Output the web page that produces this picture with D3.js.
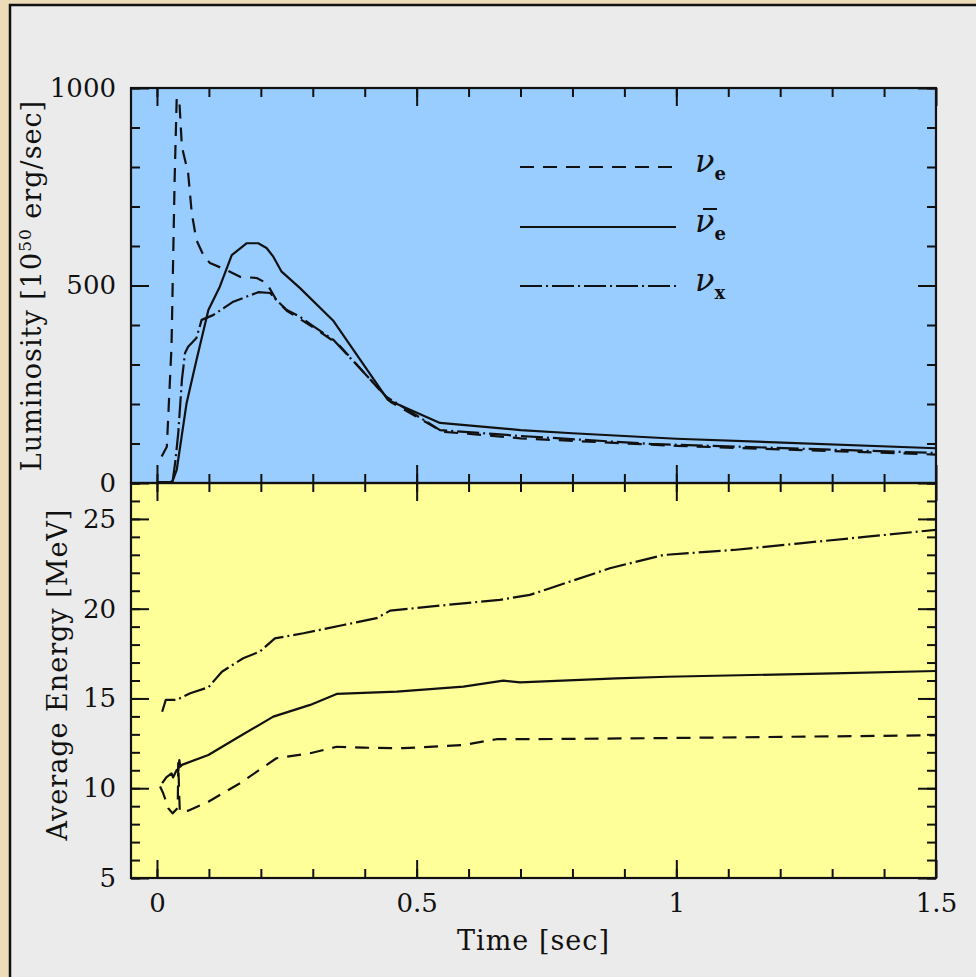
<!DOCTYPE html>
<html>
<head>
<meta charset="utf-8">
<script src="https://cdn.jsdelivr.net/npm/d3@7"></script>
<style>
  body { margin: 0; background: #eddcb8; }
  svg text { font-family: "DejaVu Serif", serif; fill: #111; }
</style>
</head>
<body>
<div id="chart"></div>
<script>
// luminosity (10^50 erg/s) vs time (s)
const lumNueT = [0.009, 0.019, 0.028, 0.034, 0.038, 0.043, 0.048, 0.060, 0.067, 0.076, 0.090, 0.102, 0.134, 0.160, 0.192, 0.211, 0.230, 0.250, 0.300, 0.350, 0.450, 0.550, 0.700, 1.000, 1.500];
const lumNueV = [67, 92, 345, 767, 975, 970, 851, 785, 683, 615, 575, 557, 539, 522, 519, 506, 463, 436, 395, 350, 205, 130, 113, 94, 72];

const lumNuebT = [0.000, 0.025, 0.030, 0.038, 0.057, 0.076, 0.099, 0.121, 0.144, 0.173, 0.195, 0.211, 0.224, 0.240, 0.275, 0.340, 0.445, 0.545, 0.700, 0.800, 1.000, 1.500];
const lumNuebV = [2, 2, 5, 33, 202, 311, 438, 497, 577, 607, 607, 595, 573, 535, 494, 410, 210, 152, 134, 126, 112, 88];

const lumNuxT = [0.030, 0.035, 0.041, 0.048, 0.054, 0.060, 0.076, 0.086, 0.108, 0.147, 0.173, 0.195, 0.218, 0.230, 0.250, 0.275, 0.300, 0.340, 0.442, 0.545, 0.700, 0.950, 1.500];
const lumNuxV = [3, 51, 126, 261, 329, 345, 367, 413, 425, 459, 472, 483, 481, 463, 438, 421, 398, 362, 218, 134, 119, 99, 76];

// average energy (MeV) vs time (s)
const eNueT = [0.006, 0.012, 0.022, 0.030, 0.040, 0.041, 0.043, 0.044, 0.060, 0.099, 0.160, 0.230, 0.295, 0.346, 0.397, 0.474, 0.590, 0.654, 0.718, 1.000, 1.500];
const eNueV = [10.1, 9.72, 8.88, 8.6, 8.9, 11.4, 9.5, 8.7, 8.75, 9.25, 10.28, 11.67, 11.95, 12.31, 12.26, 12.23, 12.41, 12.73, 12.73, 12.8, 12.95];

const eNuebT = [0.010, 0.018, 0.028, 0.031, 0.038, 0.041, 0.043, 0.045, 0.048, 0.099, 0.153, 0.224, 0.295, 0.346, 0.462, 0.590, 0.667, 0.699, 0.885, 0.982, 1.302, 1.500];
const eNuebV = [10.28, 10.61, 10.83, 10.6, 11.02, 11.0, 11.57, 11.2, 11.3, 11.85, 12.78, 13.99, 14.64, 15.25, 15.38, 15.66, 15.99, 15.9, 16.12, 16.21, 16.4, 16.53];

const eNuxT = [0.010, 0.017, 0.038, 0.064, 0.099, 0.125, 0.166, 0.198, 0.227, 0.282, 0.359, 0.423, 0.449, 0.590, 0.660, 0.718, 0.757, 0.872, 0.975, 1.110, 1.238, 1.367, 1.500];
const eNuxV = [14.26, 14.92, 14.92, 15.29, 15.62, 16.49, 17.24, 17.61, 18.35, 18.63, 19.09, 19.47, 19.89, 20.3, 20.49, 20.77, 21.14, 22.25, 22.99, 23.27, 23.64, 24.01, 24.39];

// tick values
const timeMajor = [0, 0.5, 1, 1.5];
const timeMinor = d3.range(0, 15).map(i => i / 10);
const lumMajor = [0, 500, 1000];
const lumMinor = d3.range(0, 1001, 100);
const eneMajor = [5, 10, 15, 20, 25];
const eneMinor = d3.range(5, 28, 1);

const W = 976, H = 977;
const pLeft = 131, pRight = 936, pTop = 88, pMid = 483, pBottom = 878;

const svg = d3.select('#chart')
  .append('svg')
  .attr('width', W)
  .attr('height', H);

// frame / page background
svg.append('rect').attr('x', 0).attr('y', 0).attr('width', W).attr('height', H).attr('fill', '#eddcb8');
svg.append('rect')
  .attr('x', 10).attr('y', 5)
  .attr('width', W + 20).attr('height', H + 20)
  .attr('fill', '#ebebeb')
  .attr('stroke', '#111')
  .attr('stroke-width', 2.5);

const x = d3.scaleLinear().domain([-0.05, 1.5]).range([pLeft, pRight]);
const yLum = d3.scaleLinear().domain([0, 1000]).range([pMid, pTop]);
const yEne = d3.scaleLinear().domain([5, 27]).range([pBottom, pMid]);

// panel backgrounds
svg.append('rect').attr('x', pLeft).attr('y', pTop).attr('width', pRight - pLeft).attr('height', pMid - pTop).attr('fill', '#99ccff');
svg.append('rect').attr('x', pLeft).attr('y', pMid).attr('width', pRight - pLeft).attr('height', pBottom - pMid).attr('fill', '#ffff99');

svg.append('clipPath').attr('id', 'clipTop')
  .append('rect').attr('x', pLeft).attr('y', pTop).attr('width', pRight - pLeft).attr('height', pMid - pTop);
svg.append('clipPath').attr('id', 'clipBot')
  .append('rect').attr('x', pLeft).attr('y', pMid).attr('width', pRight - pLeft).attr('height', pBottom - pMid);

const styles = {
  nue: '14,9',
  nueb: null,
  nux: '22,4,2,4'
};

function drawLine(ts, vs, yScale, dash, clip) {
  const pts = ts.map((t, i) => [t, vs[i]]);
  const line = d3.line().x(d => x(d[0])).y(d => yScale(d[1]));
  svg.append('path')
    .datum(pts)
    .attr('clip-path', `url(#${clip})`)
    .attr('fill', 'none')
    .attr('stroke', '#111')
    .attr('stroke-width', 2.2)
    .attr('stroke-linejoin', 'round')
    .attr('stroke-dasharray', dash)
    .attr('d', line);
}

drawLine(lumNueT, lumNueV, yLum, styles.nue, 'clipTop');
drawLine(lumNuebT, lumNuebV, yLum, styles.nueb, 'clipTop');
drawLine(lumNuxT, lumNuxV, yLum, styles.nux, 'clipTop');

drawLine(eNueT, eNueV, yEne, styles.nue, 'clipBot');
drawLine(eNuebT, eNuebV, yEne, styles.nueb, 'clipBot');
drawLine(eNuxT, eNuxV, yEne, styles.nux, 'clipBot');

// axes: ticks point inward on all four sides
function addAxis(axis, tx, ty, labels) {
  const g = svg.append('g')
    .attr('transform', `translate(${tx},${ty})`)
    .call(axis);
  g.select('.domain').remove();
  g.selectAll('.tick line').attr('stroke', '#111').attr('stroke-width', 2);
  if (!labels) g.selectAll('.tick text').remove();
  else g.selectAll('.tick text').attr('font-size', 26).attr('fill', '#111').attr('font-family', '"DejaVu Serif", serif');
  return g;
}

const MAJ = 18, MIN = 9;
const fmt = d3.format('');

// time axes (top of top panel, middle line both sides, bottom)
addAxis(d3.axisTop(x).tickValues(timeMajor).tickSize(-MAJ), 0, pTop, false);
addAxis(d3.axisTop(x).tickValues(timeMinor).tickSize(-MIN), 0, pTop, false);
addAxis(d3.axisBottom(x).tickValues(timeMajor).tickSize(-MAJ), 0, pMid, false);
addAxis(d3.axisBottom(x).tickValues(timeMinor).tickSize(-MIN), 0, pMid, false);
addAxis(d3.axisTop(x).tickValues(timeMajor).tickSize(-MAJ), 0, pMid, false);
addAxis(d3.axisTop(x).tickValues(timeMinor).tickSize(-MIN), 0, pMid, false);
addAxis(d3.axisBottom(x).tickValues(timeMajor).tickSize(-MAJ).tickPadding(16).tickFormat(fmt), 0, pBottom, true);
addAxis(d3.axisBottom(x).tickValues(timeMinor).tickSize(-MIN), 0, pBottom, false);

// luminosity axes
addAxis(d3.axisLeft(yLum).tickValues(lumMajor).tickSize(-MAJ).tickPadding(15).tickFormat(fmt), pLeft, 0, true);
addAxis(d3.axisLeft(yLum).tickValues(lumMinor).tickSize(-MIN), pLeft, 0, false);
addAxis(d3.axisRight(yLum).tickValues(lumMajor).tickSize(-MAJ), pRight, 0, false);
addAxis(d3.axisRight(yLum).tickValues(lumMinor).tickSize(-MIN), pRight, 0, false);

// energy axes
addAxis(d3.axisLeft(yEne).tickValues(eneMajor).tickSize(-MAJ).tickPadding(15).tickFormat(fmt), pLeft, 0, true);
addAxis(d3.axisLeft(yEne).tickValues(eneMinor).tickSize(-MIN), pLeft, 0, false);
addAxis(d3.axisRight(yEne).tickValues(eneMajor).tickSize(-MAJ), pRight, 0, false);
addAxis(d3.axisRight(yEne).tickValues(eneMinor).tickSize(-MIN), pRight, 0, false);

// panel frames
[[pTop, pMid], [pMid, pBottom]].forEach(([y0, y1]) => {
  svg.append('rect')
    .attr('x', pLeft).attr('y', y0)
    .attr('width', pRight - pLeft).attr('height', y1 - y0)
    .attr('fill', 'none')
    .attr('stroke', '#111')
    .attr('stroke-width', 2.2);
});

// axis titles
svg.append('text')
  .attr('x', (pLeft + pRight) / 2)
  .attr('y', 950)
  .attr('text-anchor', 'middle')
  .attr('font-size', 27)
  .attr('letter-spacing', 1)
  .text('Time [sec]');

const lumTitle = svg.append('text')
  .attr('transform', `translate(41,${(pTop + pMid) / 2}) rotate(-90)`)
  .attr('text-anchor', 'middle')
  .attr('font-size', 27)
  .attr('letter-spacing', 1);
lumTitle.append('tspan').text('Luminosity [10');
lumTitle.append('tspan').attr('font-size', 17).attr('dy', -10).text('50');
lumTitle.append('tspan').attr('dy', 10).text(' erg/sec]');

svg.append('text')
  .attr('transform', `translate(67,${(pMid + pBottom) / 2 - 6}) rotate(-90)`)
  .attr('text-anchor', 'middle')
  .attr('font-size', 27)
  .attr('letter-spacing', 1)
  .text('Average Energy [MeV]');

// legend
const legendItems = [
  { name: 'e', dash: styles.nue, bar: false, y: 167 },
  { name: 'e', dash: styles.nueb, bar: true, y: 227 },
  { name: 'x', dash: styles.nux, bar: false, y: 286 }
];
const lg = svg.append('g');
legendItems.forEach(d => {
  lg.append('line')
    .attr('x1', 520).attr('x2', 676)
    .attr('y1', d.y).attr('y2', d.y)
    .attr('stroke', '#111')
    .attr('stroke-width', 2.2)
    .attr('stroke-dasharray', d.dash);
  const t = lg.append('text')
    .attr('x', 695)
    .attr('y', d.y + 5);
  t.append('tspan').attr('font-size', 32).attr('font-style', 'italic').text('ν');
  t.append('tspan').attr('font-size', 18).attr('font-weight', 'bold').attr('dy', 8).text(d.name);
  if (d.bar) {
    lg.append('line')
      .attr('x1', 703).attr('x2', 717)
      .attr('y1', d.y - 18).attr('y2', d.y - 18)
      .attr('stroke', '#111')
      .attr('stroke-width', 2);
  }
});
</script>
</body>
</html>
